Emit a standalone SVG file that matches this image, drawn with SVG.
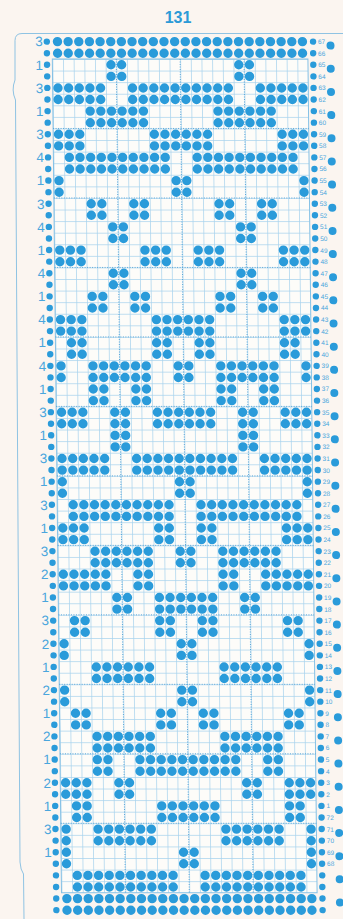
<svg xmlns="http://www.w3.org/2000/svg" width="343" height="919" viewBox="0 0 343 919">
<style>
.bg{fill:#FBF5F0}
.edge{fill:none;stroke:#8FC3E3;stroke-width:1}
.title{font-family:"Liberation Sans",Arial,sans-serif;font-weight:bold;font-size:16px;fill:#2C9AD7;text-anchor:middle}
.lab{font-family:"Liberation Sans",Arial,sans-serif;font-size:13.5px;fill:#4AA6DD;text-anchor:middle}
.num{font-family:"Liberation Sans",Arial,sans-serif;font-size:6.5px;fill:#4AA6DD}
.dots{fill:none;stroke:#2A9BDA;stroke-width:9.4;stroke-linecap:round;stroke-dasharray:0 10.65}
.mdots{fill:none;stroke:#2A9BDA;stroke-width:6.4;stroke-linecap:round;stroke-dasharray:0 11.58}
.sdots{fill:none;stroke:#2A9BDA;stroke-width:8;stroke-linecap:round;stroke-dasharray:0 23.16}
.gridln{fill:none;stroke:#A8D3EE;stroke-width:0.8}
.frame{fill:url(#cells);stroke:#86C2E6;stroke-width:1}
.dotted{fill:none;stroke:#4A9FD6;stroke-width:0.9;stroke-dasharray:1 1.5}
</style>
<defs>
<pattern id="cells" patternUnits="userSpaceOnUse" x="51.675" y="59" width="10.65" height="11.58">
<rect width="10.65" height="11.58" fill="#FDFCF9"/>
<path class="gridln" d="M0 0.4H10.65M0.4 0V11.58"/>
</pattern>
<path id="tFull" d="M57 0h245.45"/>
<path id="tA" d="M110.25 0h11.15M238.05 0h11.15"/>
<path id="tB" d="M57 0h43.1M131.55 0h96.35M259.35 0h43.1"/>
<path id="tC" d="M88.95 0h53.75M216.75 0h53.75"/>
<path id="tD" d="M57 0h21.8M152.85 0h53.75M280.65 0h21.8"/>
<path id="tE" d="M67.65 0h96.35M195.45 0h96.35"/>
<path id="tF" d="M57 0h0.5M174.15 0h11.15M301.95 0h0.5"/>
<path id="tG" d="M88.95 0h11.15M131.55 0h11.15M216.75 0h11.15M259.35 0h11.15"/>
<path id="tH" d="M57 0h21.8M142.2 0h21.8M195.45 0h21.8M280.65 0h21.8"/>
<path id="tI" d="M67.65 0h11.15M152.85 0h11.15M195.45 0h11.15M280.65 0h11.15"/>
<path id="tJ" d="M57 0h0.5M88.95 0h53.75M174.15 0h11.15M216.75 0h53.75M301.95 0h0.5"/>
<path id="tK" d="M57 0h21.8M110.25 0h11.15M152.85 0h53.75M238.05 0h11.15M280.65 0h21.8"/>
<path id="tL" d="M57 0h21.8M152.85 0h11.15M195.45 0h11.15M280.65 0h21.8"/>
<path id="tM" d="M88.95 0h53.75M174.15 0h11.15M216.75 0h53.75"/>
<path id="tN" d="M57 0h43.1M131.55 0h11.15M216.75 0h11.15M259.35 0h43.1"/>
<path id="tO" d="M110.25 0h11.15M152.85 0h53.75M238.05 0h11.15"/>
<path id="tP" d="M88.95 0h11.15M131.55 0h96.35M259.35 0h11.15"/>
<path id="tQ" d="M57 0h21.8M110.25 0h11.15M238.05 0h11.15M280.65 0h21.8"/>
<path id="tR" d="M67.65 0h11.15M152.85 0h53.75M280.65 0h11.15"/>
<path id="tS" d="M57 0h0.5M88.95 0h53.75M216.75 0h53.75M301.95 0h0.5"/>
</defs>
<rect class="bg" width="343" height="919"/>
<text class="title" x="178" y="23">131</text>
<path class="edge" d="M343 33.5H22Q15 33.5 15 40.5V80Q11 90 15.5 100L20 862Q20.5 870 23.5 874L24 919"/>
<g id="card" transform="matrix(1 0 0.011 1 0 0)">
<rect id="grid" class="frame" x="51.675" y="59" width="255.6" height="833.76"/>
<path id="guides" class="dotted" d="M115.575 59V892.76M179.475 59V892.76M243.375 59V892.76M51.675 128.48H307.275M51.675 197.96H307.275M51.675 267.44H307.275M51.675 336.92H307.275M51.675 406.4H307.275M51.675 475.88H307.275M51.675 545.36H307.275M51.675 614.84H307.275M51.675 684.32H307.275M51.675 753.8H307.275M51.675 823.28H307.275"/>
<path id="margin-dots" class="mdots" d="M46.35 41.6V910.7M312.6 41.6V910.7"/>
<path id="sprocket-holes" class="sdots" d="M330 45.6V903.5"/>
<g id="punched-holes" class="dots">
<use href="#tFull" y="41.6"/><use href="#tFull" y="53.2"/>
<use href="#tA" y="64.8"/><use href="#tA" y="76.4"/>
<use href="#tB" y="88.0"/><use href="#tB" y="99.5"/>
<use href="#tC" y="111.1"/><use href="#tC" y="122.7"/>
<use href="#tD" y="134.3"/><use href="#tD" y="145.9"/>
<use href="#tE" y="157.4"/><use href="#tE" y="169.0"/>
<use href="#tF" y="180.6"/><use href="#tF" y="192.2"/>
<use href="#tG" y="203.8"/><use href="#tG" y="215.3"/>
<use href="#tA" y="226.9"/><use href="#tA" y="238.5"/>
<use href="#tH" y="250.1"/><use href="#tH" y="261.7"/>
<use href="#tA" y="273.2"/><use href="#tA" y="284.8"/>
<use href="#tG" y="296.4"/><use href="#tG" y="308.0"/>
<use href="#tD" y="319.6"/><use href="#tD" y="331.1"/>
<use href="#tI" y="342.7"/><use href="#tI" y="354.3"/>
<use href="#tJ" y="365.9"/><use href="#tJ" y="377.5"/>
<use href="#tG" y="389.0"/><use href="#tG" y="400.6"/>
<use href="#tK" y="412.2"/><use href="#tK" y="423.8"/>
<use href="#tA" y="435.4"/><use href="#tA" y="446.9"/>
<use href="#tB" y="458.5"/><use href="#tB" y="470.1"/>
<use href="#tF" y="481.7"/><use href="#tF" y="493.3"/>
<use href="#tE" y="504.8"/><use href="#tE" y="516.4"/>
<use href="#tL" y="528.0"/><use href="#tL" y="539.6"/>
<use href="#tM" y="551.2"/><use href="#tM" y="562.7"/>
<use href="#tN" y="574.3"/><use href="#tN" y="585.9"/>
<use href="#tO" y="597.5"/><use href="#tO" y="609.1"/>
<use href="#tI" y="620.6"/><use href="#tI" y="632.2"/>
<use href="#tF" y="643.8"/><use href="#tF" y="655.4"/>
<use href="#tC" y="667.0"/><use href="#tC" y="678.5"/>
<use href="#tF" y="690.1"/><use href="#tF" y="701.7"/>
<use href="#tI" y="713.3"/><use href="#tI" y="724.9"/>
<use href="#tC" y="736.4"/><use href="#tC" y="748.0"/>
<use href="#tP" y="759.6"/><use href="#tP" y="771.2"/>
<use href="#tQ" y="782.8"/><use href="#tQ" y="794.3"/>
<use href="#tR" y="805.9"/><use href="#tR" y="817.5"/>
<use href="#tS" y="829.1"/><use href="#tS" y="840.7"/>
<use href="#tF" y="852.2"/><use href="#tF" y="863.8"/>
<use href="#tE" y="875.4"/><use href="#tE" y="887.0"/>
<use href="#tFull" y="898.6"/><use href="#tFull" y="910.2"/>
</g>
<g id="left-labels" class="lab">
<text x="38.5" y="46.4">3</text><text x="38.5" y="69.6">1</text><text x="38.5" y="92.8">3</text><text x="38.5" y="115.9">1</text>
<text x="38.5" y="139.1">3</text><text x="38.5" y="162.2">4</text><text x="38.5" y="185.4">1</text><text x="38.5" y="208.6">3</text>
<text x="38.5" y="231.7">4</text><text x="38.5" y="254.9">1</text><text x="38.5" y="278.0">4</text><text x="38.5" y="301.2">1</text>
<text x="38.5" y="324.4">4</text><text x="38.5" y="347.5">1</text><text x="38.5" y="370.7">4</text><text x="38.5" y="393.8">1</text>
<text x="38.5" y="417.0">3</text><text x="38.5" y="440.2">1</text><text x="38.5" y="463.3">3</text><text x="38.5" y="486.5">1</text>
<text x="38.5" y="509.6">3</text><text x="38.5" y="532.8">1</text><text x="38.5" y="556.0">3</text><text x="38.5" y="579.1">2</text>
<text x="38.5" y="602.3">1</text><text x="38.5" y="625.4">3</text><text x="38.5" y="648.6">2</text><text x="38.5" y="671.8">1</text>
<text x="38.5" y="694.9">2</text><text x="38.5" y="718.1">1</text><text x="38.5" y="741.2">2</text><text x="38.5" y="764.4">1</text>
<text x="38.5" y="787.6">2</text><text x="38.5" y="810.7">1</text><text x="38.5" y="833.9">3</text><text x="38.5" y="857.0">1</text>
</g>
<g id="row-numbers" class="num">
<text x="317.5" y="44.1">67</text><text x="317.5" y="55.7">66</text><text x="317.5" y="67.3">65</text><text x="317.5" y="78.9">64</text>
<text x="317.5" y="90.5">63</text><text x="317.5" y="102.0">62</text><text x="317.5" y="113.6">61</text><text x="317.5" y="125.2">60</text>
<text x="317.5" y="136.8">59</text><text x="317.5" y="148.4">58</text><text x="317.5" y="159.9">57</text><text x="317.5" y="171.5">56</text>
<text x="317.5" y="183.1">55</text><text x="317.5" y="194.7">54</text><text x="317.5" y="206.3">53</text><text x="317.5" y="217.8">52</text>
<text x="317.5" y="229.4">51</text><text x="317.5" y="241.0">50</text><text x="317.5" y="252.6">49</text><text x="317.5" y="264.2">48</text>
<text x="317.5" y="275.7">47</text><text x="317.5" y="287.3">46</text><text x="317.5" y="298.9">45</text><text x="317.5" y="310.5">44</text>
<text x="317.5" y="322.1">43</text><text x="317.5" y="333.6">42</text><text x="317.5" y="345.2">41</text><text x="317.5" y="356.8">40</text>
<text x="317.5" y="368.4">39</text><text x="317.5" y="380.0">38</text><text x="317.5" y="391.5">37</text><text x="317.5" y="403.1">36</text>
<text x="317.5" y="414.7">35</text><text x="317.5" y="426.3">34</text><text x="317.5" y="437.9">33</text><text x="317.5" y="449.4">32</text>
<text x="317.5" y="461.0">31</text><text x="317.5" y="472.6">30</text><text x="317.5" y="484.2">29</text><text x="317.5" y="495.8">28</text>
<text x="317.5" y="507.3">27</text><text x="317.5" y="518.9">26</text><text x="317.5" y="530.5">25</text><text x="317.5" y="542.1">24</text>
<text x="317.5" y="553.7">23</text><text x="317.5" y="565.2">22</text><text x="317.5" y="576.8">21</text><text x="317.5" y="588.4">20</text>
<text x="317.5" y="600.0">19</text><text x="317.5" y="611.6">18</text><text x="317.5" y="623.1">17</text><text x="317.5" y="634.7">16</text>
<text x="317.5" y="646.3">15</text><text x="317.5" y="657.9">14</text><text x="317.5" y="669.5">13</text><text x="317.5" y="681.0">12</text>
<text x="317.5" y="692.6">11</text><text x="317.5" y="704.2">10</text><text x="317.5" y="715.8">9</text><text x="317.5" y="727.4">8</text>
<text x="317.5" y="738.9">7</text><text x="317.5" y="750.5">6</text><text x="317.5" y="762.1">5</text><text x="317.5" y="773.7">4</text>
<text x="317.5" y="785.3">3</text><text x="317.5" y="796.8">2</text><text x="317.5" y="808.4">1</text><text x="317.5" y="820.0">72</text>
<text x="317.5" y="831.6">71</text><text x="317.5" y="843.2">70</text><text x="317.5" y="854.7">69</text><text x="317.5" y="866.3">68</text>
</g>
</g>
</svg>
